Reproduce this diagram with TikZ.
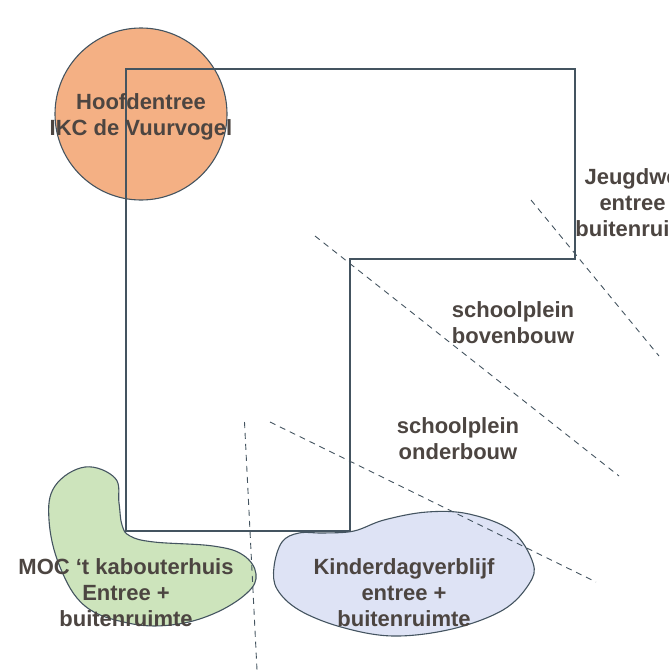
\documentclass[tikz,border=0pt]{standalone}
\usepackage{fontspec}
\setmainfont{Liberation Sans}
\definecolor{strokec}{RGB}{68,84,96}
\definecolor{txtc}{RGB}{76,69,65}
\definecolor{orangec}{RGB}{244,176,132}
\definecolor{greenc}{RGB}{205,228,188}
\definecolor{bluec}{RGB}{222,227,245}
\tikzset{
  lbl/.style={font=\bfseries\fontsize{22}{26}\selectfont, text=txtc, align=center, inner sep=0pt},
  outl/.style={draw=strokec, line width=1.1pt},
  dsh/.style={draw=strokec, line width=0.9pt, dash pattern=on 6pt off 5pt}
}
\begin{document}
\begin{tikzpicture}[x=1pt,y=-1pt]
\useasboundingbox (0,0) rectangle (669,670);
\clip (0,0) rectangle (669,670);
% main entrance circle
\draw[outl, fill=orangec] (141,114) circle (86);
% building outline
\draw[outl, line width=1.3pt] (126,69) -- (575,69) -- (575,259) -- (350,259) -- (350,531) -- (126,531) -- cycle;
% green blob
\draw[outl, fill=greenc] plot[smooth cycle, tension=0.65] coordinates {(85,467) (115,478) (119,503) (122,525) (130,536) (154,542) (213,546) (243,555) (256,574) (247,593) (213,614) (171,625) (128,623) (85,606) (60,567) (49,520) (55,486)};
% blue blob
\draw[outl, fill=bluec] plot[smooth cycle, tension=0.6] coordinates {(274,567) (282,542) (299,533) (324,533) (354,531) (384,520) (427,512) (469,514) (512,531) (533,563) (529,584) (503,610) (452,629) (393,636) (341,627) (299,610) (277,589)};
% dashed lines
\coordinate (d1a) at (531,200); \coordinate (d1b) at (659,356);
\coordinate (d2a) at (315,236); \coordinate (d2b) at (619,476);
\coordinate (d3a) at (270,422); \coordinate (d3b) at (596,582);
\coordinate (d4a) at (244.5,422); \coordinate (d4b) at (257,670);
\draw[dsh] (d1a) -- (d1b);
\draw[dsh] (d2a) -- (d2b);
\draw[dsh] (d3a) -- (d3b);
\draw[dsh] (d4a) -- (d4b);
% labels
\node[lbl] (hoofd) at (141,117) {Hoofdentree\\IKC de Vuurvogel};
\node[lbl] (jeugd) at (642,203) {Jeugdwerk\\entree +\\buitenruimte};
\node[lbl] (boven) at (513,323) {schoolplein\\bovenbouw};
\node[lbl] (onder) at (458,439) {schoolplein\\onderbouw};
\node[lbl] (moc) at (126,593) {MOC ‘t kabouterhuis\\Entree +\\buitenruimte};
\node[lbl] (kdv) at (404,593) {Kinderdagverblijf\\entree +\\buitenruimte};
\end{tikzpicture}
\end{document}
